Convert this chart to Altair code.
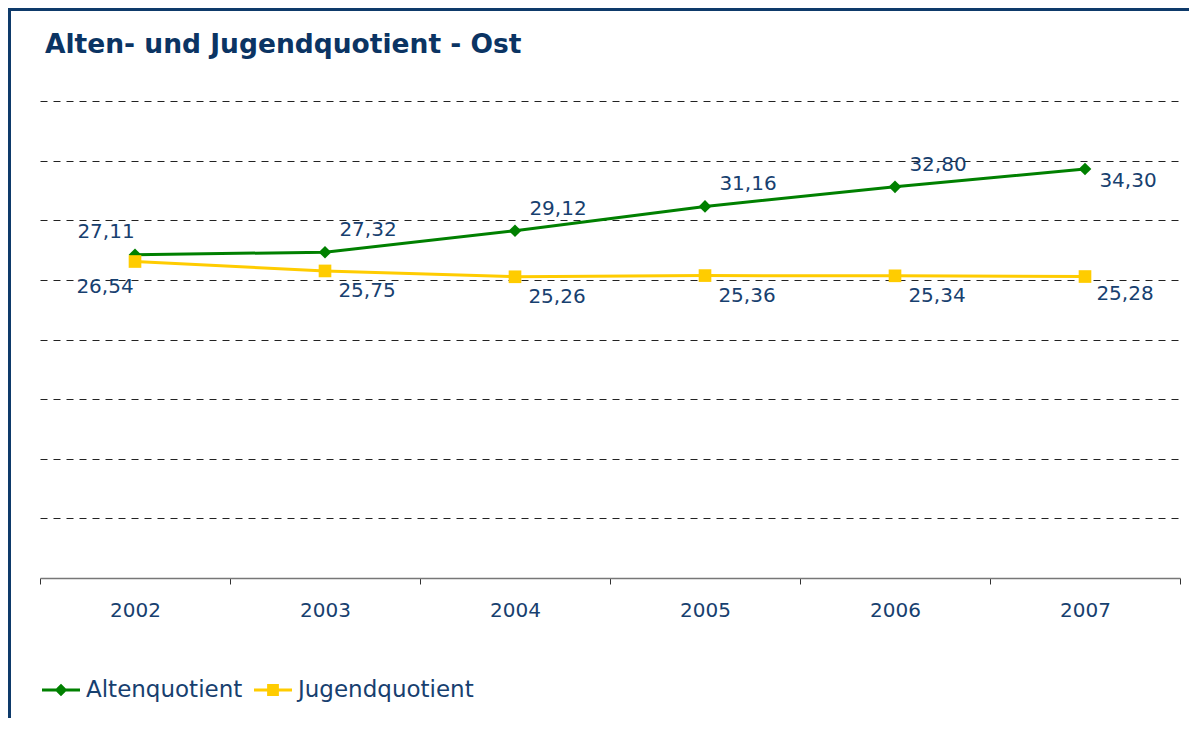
import altair as alt
import pandas as pd

# ---- data ----
years = [2002, 2003, 2004, 2005, 2006, 2007]
alten = [27.11, 27.32, 29.12, 31.16, 32.80, 34.30]
jugend = [26.54, 25.75, 25.26, 25.36, 25.34, 25.28]
series = ["Altenquotient", "Jugendquotient"]
title_text = "Alten- und Jugendquotient - Ost"

rows = []
for name, vals in zip(series, [alten, jugend]):
    for i, (yr, v) in enumerate(zip(years, vals)):
        pos = "first" if i == 0 else ("last" if i == len(years) - 1 else "mid")
        rows.append({"year": yr, "series": name, "value": v,
                     "label": f"{v:.2f}".replace(".", ","), "pos": pos})
df = pd.DataFrame(rows)

# ---- styles ----
FONT = "DejaVu Sans"
TXT = "#17406F"
TITLE_C = "#0B3463"
GREEN = "#008000"
YELLOW = "#FFCC00"
colors = [GREEN, YELLOW]

W, H = 1140, 477

xenc = alt.X("year:O",
             scale=alt.Scale(type="band", paddingInner=0, paddingOuter=0),
             axis=alt.Axis(title=None, tickBand="extent", labelAngle=0,
                           labelFontSize=20, labelColor=TXT, labelFont=FONT,
                           tickSize=6, tickColor="#333333", tickWidth=1,
                           domainColor="#777777", domainWidth=1.5,
                           labelPadding=16, grid=False))
yenc = alt.Y("value:Q", scale=alt.Scale(domain=[0, 40], nice=False),
             axis=alt.Axis(title=None, values=[5, 10, 15, 20, 25, 30, 35, 40],
                           labels=False, ticks=False, domain=False, grid=True,
                           gridColor="#222222", gridDash=[7, 6], gridWidth=1))

def cscale():
    return alt.Scale(domain=series, range=colors)

base = alt.Chart(df)

lines = base.mark_line(strokeWidth=3).encode(
    x=xenc, y=yenc,
    color=alt.Color("series:N", scale=cscale(), legend=None))

points = base.mark_point(filled=True, opacity=1, size=160).encode(
    x=xenc, y=yenc,
    color=alt.Color("series:N", scale=cscale(), legend=None),
    shape=alt.Shape("series:N",
                    scale=alt.Scale(domain=series, range=["diamond", "square"]),
                    legend=None))

def labels(name, pos_filter, dx, dy):
    return base.transform_filter(
        (alt.datum.series == name) & pos_filter
    ).mark_text(font=FONT, fontSize=20, color=TXT, align="center",
                baseline="middle", dx=dx, dy=dy).encode(
        x=xenc, y=yenc, text="label:N")

lab_layers = [
    labels(series[0], alt.datum.pos == "mid", 43, -22),
    labels(series[0], alt.datum.pos == "first", -29, -23),
    labels(series[0], alt.datum.pos == "last", 43, 12),
    labels(series[1], alt.datum.pos == "mid", 42, 20),
    labels(series[1], alt.datum.pos == "first", -30, 25),
    labels(series[1], alt.datum.pos == "last", 40, 17),
]

# legend-only layer (invisible marks, custom line+marker symbols)
sym_alt = "M-1,-0.08H1V0.08H-1ZM0,-0.33L0.33,0L0,0.33L-0.33,0Z"
sym_jug = "M-1,-0.08H1V0.08H-1ZM-0.31,-0.31H0.31V0.31H-0.31Z"
leg = alt.Legend(title=None, orient="none", legendX=2, legendY=570,
                 direction="horizontal", labelFont=FONT, labelFontSize=23,
                 labelColor=TXT, symbolSize=1444, symbolStrokeWidth=0,
                 labelOffset=6, columnPadding=11, padding=0,
                 symbolOpacity=1, labelLimit=400)
legend_layer = base.mark_point(filled=True).encode(
    x=xenc, y=yenc,
    opacity=alt.value(0),
    color=alt.Color("series:N", scale=cscale(), legend=leg),
    shape=alt.Shape("series:N",
                    scale=alt.Scale(domain=series, range=[sym_alt, sym_jug]),
                    legend=leg))

one = alt.Chart(pd.DataFrame({"t": [title_text]}))
title = one.mark_text(font=FONT, fontSize=26.5, fontWeight="bold",
                      color=TITLE_C, align="left",
                      baseline="alphabetic").encode(
    x=alt.value(5), y=alt.value(-48), text="t:N")

border_left = one.mark_rule(color="#0E3A6A", strokeWidth=3).encode(
    x=alt.value(-30.5), y=alt.value(-93), y2=alt.value(H + 140))
border_top = one.mark_rule(color="#0E3A6A", strokeWidth=3).encode(
    x=alt.value(-32), x2=alt.value(W + 9), y=alt.value(-91.5))

chart = alt.layer(
    lines, points, *lab_layers, legend_layer, title, border_left, border_top
).resolve_scale(
    color="independent", shape="independent"
).properties(
    width=W, height=H,
    background="white",
    autosize=alt.AutoSizeParams(type="none"),
    padding={"left": 32, "top": 93, "right": 9, "bottom": 140},
).configure_view(stroke="transparent", strokeWidth=0)

chart.save("out.html", embed_options={"renderer": "svg", "actions": False})
